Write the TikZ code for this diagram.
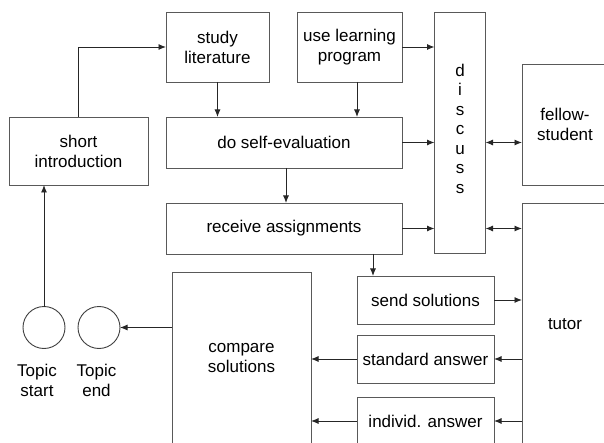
\documentclass[tikz,border=0pt]{standalone}
\usepackage{fontspec}
\setmainfont{Liberation Sans}
\usetikzlibrary{arrows.meta,positioning}

\begin{document}
\begin{tikzpicture}[x=1pt,y=-1pt,->,>={Latex[length=7.5pt,width=6pt]},line width=0.9pt,draw=black!85,
		box/.style={rectangle,draw=black!65,inner sep=0pt,outer sep=0pt,align=center,font=\fontsize{17}{20}\selectfont},
		topic/.style={circle,draw=black!75,minimum size=42pt,inner sep=0pt,outer sep=0pt},
		label text/.style={align=center,inner sep=0pt,font=\fontsize{17}{20}\selectfont}]

		\clip (0,0) rectangle (604,443);
		\node[box,minimum width=103pt,minimum height=70pt] (study) at (217.5,47) {study\\literature};
		\node[box,minimum width=105pt,minimum height=70pt] (program) at (349.5,47) {use learning\\program};
		\node[box,minimum width=51pt,minimum height=241pt] (discuss) at (460,132.5) {};
		\node[label text,font=\fontsize{17}{19.5}\selectfont,yshift=4pt] (discusstext) at (discuss.center) {d\\i\\s\\c\\u\\s\\s};
		\node[box,minimum width=86pt,minimum height=121pt] (fellow) at (565,124.5) {fellow-\\student};
		\node[box,minimum width=139pt,minimum height=68pt] (intro) at (78.5,151) {short\\introduction};
		\node[box,minimum width=236pt,minimum height=51pt] (selfeval) at (284,142.5) {do self-evaluation};
		\node[box,minimum width=236pt,minimum height=51pt] (assign) at (284,228.5) {receive assignments};
		\node[box,minimum width=137pt,minimum height=48pt] (send) at (425.5,300) {send solutions};
		\node[box,minimum width=137pt,minimum height=48pt] (standard) at (425.5,359) {standard answer};
		\node[box,minimum width=137pt,minimum height=48pt] (individ) at (425.5,421) {individ. answer};
		\node[box,minimum width=86pt,minimum height=242pt] (tutor) at (565,324) {tutor};
		\node[box,minimum width=139pt,minimum height=172pt] (compare) at (241.5,358) {compare\\solutions};
		\node[topic] (start) at (44,327.5) {};
		\node[topic] (end) at (99,327.5) {};
		\node[label text] (startlabel) at (37,380) {Topic\\start};
		\node[label text] (endlabel) at (96.5,380) {Topic\\end};

		\draw (intro.north) |- (study.west);
		\draw (study.south) -- (study.south |- selfeval.north);
		\draw ([xshift=7.5pt]program.south) -- ([xshift=7.5pt]program.south |- selfeval.north);
		\draw (program.east) -- (program.east -| discuss.west);
		\draw (selfeval.east) -- (discuss.west |- selfeval.east);
		\draw ([xshift=2pt]selfeval.south) -- ([xshift=2pt]selfeval.south |- assign.north);
		\draw (assign.east) -- (discuss.west |- assign.east);
		\draw ([xshift=-52.5pt]send.north |- assign.south) -- ([xshift=-52.5pt]send.north);
		\draw[<->] (discuss.east |- selfeval.east) -- (fellow.west |- selfeval.east);
		\draw[<->] (discuss.east |- assign.east) -- (tutor.west |- assign.east);
		\draw (send.east) -- (tutor.west |- send.east);
		\draw (tutor.west |- standard.east) -- (standard.east);
		\draw (standard.west) -- (compare.east |- standard.west);
		\draw (tutor.west |- individ.east) -- (individ.east);
		\draw (individ.west) -- (compare.east |- individ.west);
		\draw (compare.west |- end.east) -- (end.east);
		\draw (start.north) -- (start.north |- intro.south);

\end{tikzpicture}
\end{document}
